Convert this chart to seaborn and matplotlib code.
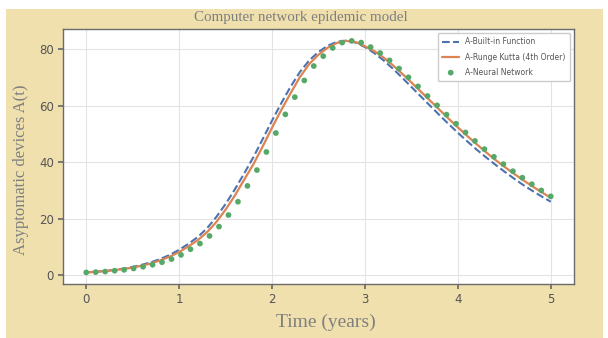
import numpy as np
import pandas as pd
import matplotlib
matplotlib.use("Agg")
import matplotlib.pyplot as plt
from matplotlib.patches import Rectangle
import seaborn as sns

# ---------------- data ----------------
# time grid of the solver curves (step 0.1)
t_line = [0.0, 0.1, 0.2, 0.3, 0.4, 0.5, 0.6, 0.7, 0.8, 0.9, 1.0,
          1.1, 1.2, 1.3, 1.4, 1.5, 1.6, 1.7, 1.8, 1.9, 2.0,
          2.1, 2.2, 2.3, 2.4, 2.5, 2.6, 2.7, 2.8, 2.9, 3.0,
          3.1, 3.2, 3.3, 3.4, 3.5, 3.6, 3.7, 3.8, 3.9, 4.0,
          4.1, 4.2, 4.3, 4.4, 4.5, 4.6, 4.7, 4.8, 4.9, 5.0]

builtin = [1.0, 1.25, 1.5, 1.9, 2.35, 2.95, 3.7, 4.6, 5.8, 7.2, 9.0,
           11.1, 13.5, 16.6, 20.6, 25.2, 30.4, 36.0, 41.8, 48.2, 54.7,
           60.9, 66.7, 71.9, 76.0, 79.0, 81.2, 82.6, 83.0, 82.3, 80.7,
           78.6, 76.0, 73.1, 69.9, 66.6, 63.3, 60.0, 56.7, 53.5, 50.4,
           47.4, 44.5, 41.8, 39.2, 36.7, 34.3, 32.0, 29.9, 27.9, 26.0]

rk4 = [1.0, 1.2, 1.45, 1.8, 2.2, 2.7, 3.4, 4.2, 5.3, 6.6, 8.2,
       10.2, 12.4, 15.2, 18.8, 23.2, 28.2, 33.8, 39.3, 45.6, 52.2,
       58.5, 64.4, 70.1, 74.7, 78.0, 80.5, 82.2, 82.9, 82.5, 81.0,
       79.3, 77.0, 74.3, 71.3, 68.2, 65.0, 61.8, 58.6, 55.4, 52.3,
       49.3, 46.4, 43.6, 40.9, 38.4, 36.0, 33.7, 31.5, 29.4, 27.4]

# time grid of the neural-network samples (50 points on [0, 5])
t_nn = [0.000, 0.102, 0.204, 0.306, 0.408, 0.510, 0.612, 0.714, 0.816, 0.918,
        1.020, 1.122, 1.224, 1.327, 1.429, 1.531, 1.633, 1.735, 1.837, 1.939,
        2.041, 2.143, 2.245, 2.347, 2.449, 2.551, 2.653, 2.755, 2.857, 2.959,
        3.061, 3.163, 3.265, 3.367, 3.469, 3.571, 3.673, 3.776, 3.878, 3.980,
        4.082, 4.184, 4.286, 4.388, 4.490, 4.592, 4.694, 4.796, 4.898, 5.000]

neural = [1.0, 1.1, 1.3, 1.6, 1.9, 2.4, 3.0, 3.7, 4.6, 5.7,
          7.2, 9.2, 11.2, 13.9, 17.2, 21.3, 26.0, 31.6, 37.2, 43.6,
          50.3, 56.9, 63.0, 68.9, 74.0, 77.5, 80.4, 82.3, 82.9, 82.3,
          80.7, 78.6, 76.0, 73.1, 70.0, 66.8, 63.4, 60.1, 56.8, 53.6,
          50.5, 47.5, 44.6, 41.9, 39.3, 36.8, 34.5, 32.2, 30.0, 27.9]

labels = ["A-Built-in Function", "A-Runge Kutta (4th Order)", "A-Neural Network"]
xticks = [0, 1, 2, 3, 4, 5]
yticks = [0, 20, 40, 60, 80]

df_line = pd.DataFrame({"t": t_line, "builtin": builtin, "rk4": rk4})
df_nn = pd.DataFrame({"t": t_nn, "neural": neural})

# ---------------- style ----------------
sns.set_theme(style="whitegrid")
plt.rcParams.update({
    "axes.edgecolor": "#6b6b6b",
    "axes.linewidth": 1.0,
    "grid.color": "#e3e3e3",
    "grid.linewidth": 0.8,
    "xtick.bottom": True,
    "ytick.left": True,
    "xtick.color": "#6b6b6b",
    "ytick.color": "#6b6b6b",
    "xtick.labelcolor": "#555555",
    "ytick.labelcolor": "#555555",
    "xtick.major.size": 3.5,
    "ytick.major.size": 3.5,
})
pal = sns.color_palette("deep")

fig = plt.figure(figsize=(6.08, 3.38), dpi=100, facecolor="white")
fig.patches.append(Rectangle((6 / 608, 0), 597 / 608, 329 / 338,
                             transform=fig.transFigure, facecolor="#EFE0AE",
                             edgecolor="none", zorder=-10))
ax = fig.add_axes([63 / 608, 1 - 284 / 338, 511 / 608, 255 / 338])
ax.set_facecolor("white")

sns.lineplot(data=df_line, x="t", y="builtin", ax=ax, color=pal[0], lw=1.5,
             linestyle="--", label=labels[0])
sns.lineplot(data=df_line, x="t", y="rk4", ax=ax, color=pal[1], lw=1.6,
             label=labels[1])
sns.scatterplot(data=df_nn, x="t", y="neural", ax=ax, color=pal[2], s=17,
                edgecolor="none", label=labels[2], zorder=3)

ax.set_xticks(xticks)
ax.set_yticks(yticks)
ax.tick_params(labelsize=8.5, pad=3)
ax.set_xlabel("")
ax.set_ylabel("")

leg = ax.legend(loc="upper right", fontsize=5.5, frameon=True,
                facecolor="white", edgecolor="#cccccc", framealpha=1,
                handlelength=2.2, borderpad=0.6, labelspacing=0.8)
for txt in leg.get_texts():
    txt.set_color("#555555")

serif = ["Liberation Serif", "DejaVu Serif"]
fig.text(301 / 608, 1 - 18 / 338, "Computer network epidemic model",
         ha="center", va="center", family=serif, fontsize=10.8, color="#7f7f7f")
fig.text(326 / 608, 1 - 322 / 338, "Time (years)", ha="center", va="center",
         family=serif, fontsize=14, color="#7f7f7f")
fig.text(21 / 608, 1 - 170 / 338, "Asyptomatic devices A(t)", ha="center",
         va="center", rotation=90, family=serif, fontsize=12, color="#7f7f7f")

fig.savefig("out.png", dpi=100, facecolor=fig.get_facecolor())
